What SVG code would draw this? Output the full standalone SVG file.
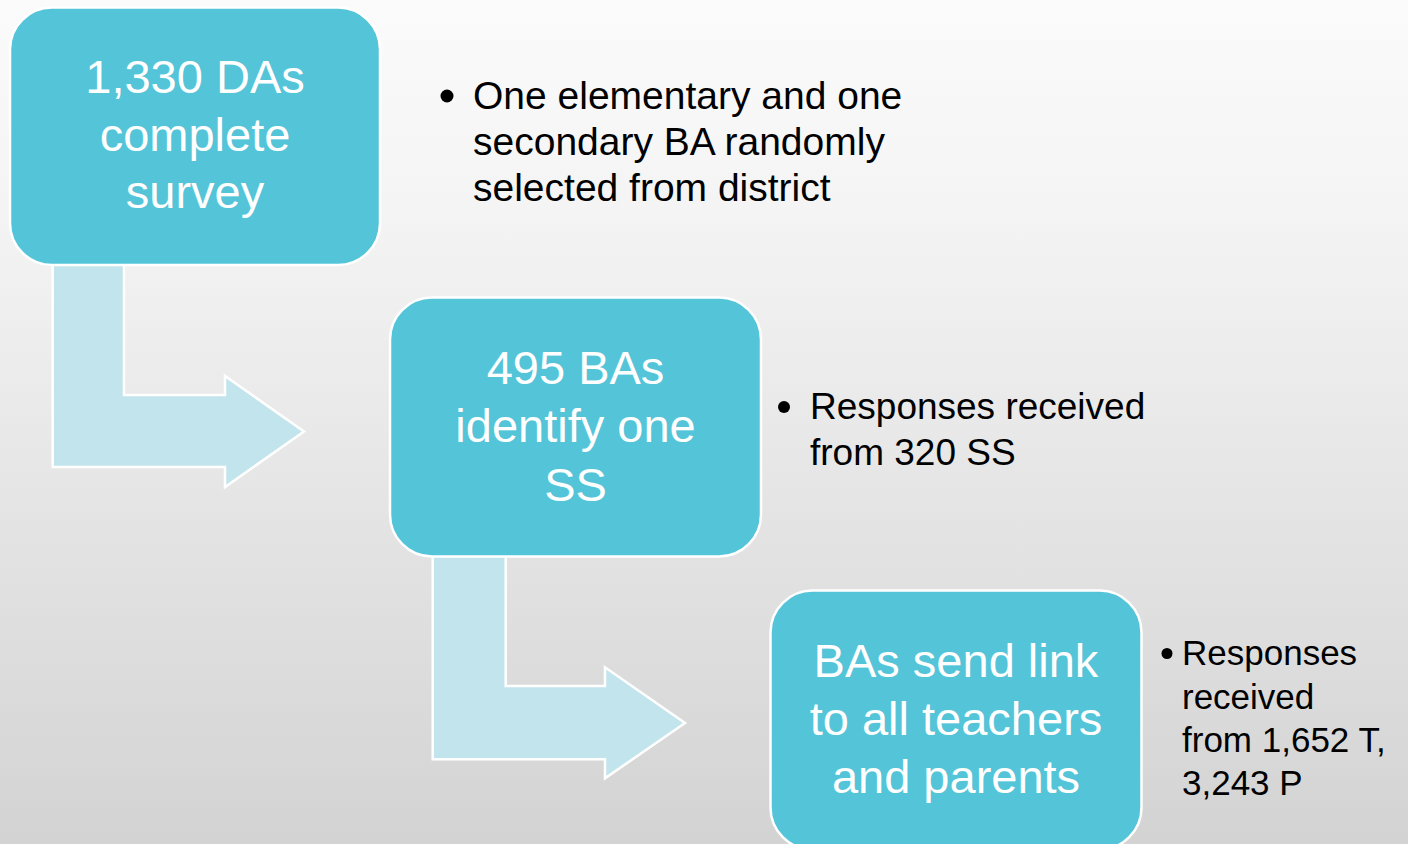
<svg xmlns="http://www.w3.org/2000/svg" width="1408" height="844" viewBox="0 0 1408 844">
<defs>
<linearGradient id="bg" x1="0" y1="0" x2="0" y2="1">
<stop offset="0" stop-color="#fbfbfb"/>
<stop offset="0.25" stop-color="#f4f4f4"/>
<stop offset="1" stop-color="#d3d3d3"/>
</linearGradient>
<style>
.box{fill:#54c4d8;stroke:#ffffff;stroke-width:2.5}
.arrow{fill:#c2e4ec;stroke:#ffffff;stroke-width:2.5;stroke-linejoin:miter}
.bt{font-family:"Liberation Sans",Arial,sans-serif;font-size:47px;fill:#ffffff;text-anchor:middle}
.tx{font-family:"Liberation Sans",Arial,sans-serif;fill:#000000}
.dot{fill:#000000}
</style>
</defs>
<rect x="0" y="0" width="1408" height="844" fill="url(#bg)"/>
<g id="connectors">
<polygon class="arrow" points="52.7,262 124,262 124,395 225,395 225,376 304,431.5 225,487 225,467 52.7,467"/>
<polygon class="arrow" points="432.7,554 505.7,554 505.7,686 605,686 605,667.3 685,723 605,778.3 605,759.3 432.7,759.3"/>
</g>
<g id="node1">
<rect class="box" x="10" y="7.5" width="370" height="257.5" rx="42" ry="42"/>
<text class="bt" x="195" y="92.5">1,330 DAs</text>
<text class="bt" x="195" y="151">complete</text>
<text class="bt" x="195" y="208">survey</text>
</g>
<g id="note1">
<circle class="dot" cx="447" cy="96" r="6.5"/>
<text class="tx" font-size="39" x="473" y="109">One elementary and one</text>
<text class="tx" font-size="39" x="473" y="155">secondary BA randomly</text>
<text class="tx" font-size="39" x="473" y="201">selected from district</text>
</g>
<g id="node2">
<rect class="box" x="390" y="297.5" width="371" height="259" rx="42" ry="42"/>
<text class="bt" x="575.5" y="384">495 BAs</text>
<text class="bt" x="575.5" y="442">identify one</text>
<text class="bt" x="575.5" y="500.5">SS</text>
</g>
<g id="note2">
<circle class="dot" cx="784" cy="407" r="6"/>
<text class="tx" font-size="37" x="810" y="419">Responses received</text>
<text class="tx" font-size="37" x="810" y="465">from 320 SS</text>
</g>
<g id="node3">
<rect class="box" x="770.5" y="590.5" width="371" height="259" rx="42" ry="42"/>
<text class="bt" x="956" y="677">BAs send link</text>
<text class="bt" x="956" y="735">to all teachers</text>
<text class="bt" x="956" y="793">and parents</text>
</g>
<g id="note3">
<circle class="dot" cx="1167" cy="653.5" r="5.5"/>
<text class="tx" font-size="35" x="1182" y="665">Responses</text>
<text class="tx" font-size="35" x="1182" y="708.5">received</text>
<text class="tx" font-size="35" x="1182" y="752">from 1,652 T,</text>
<text class="tx" font-size="35" x="1182" y="795">3,243 P</text>
</g>
</svg>
